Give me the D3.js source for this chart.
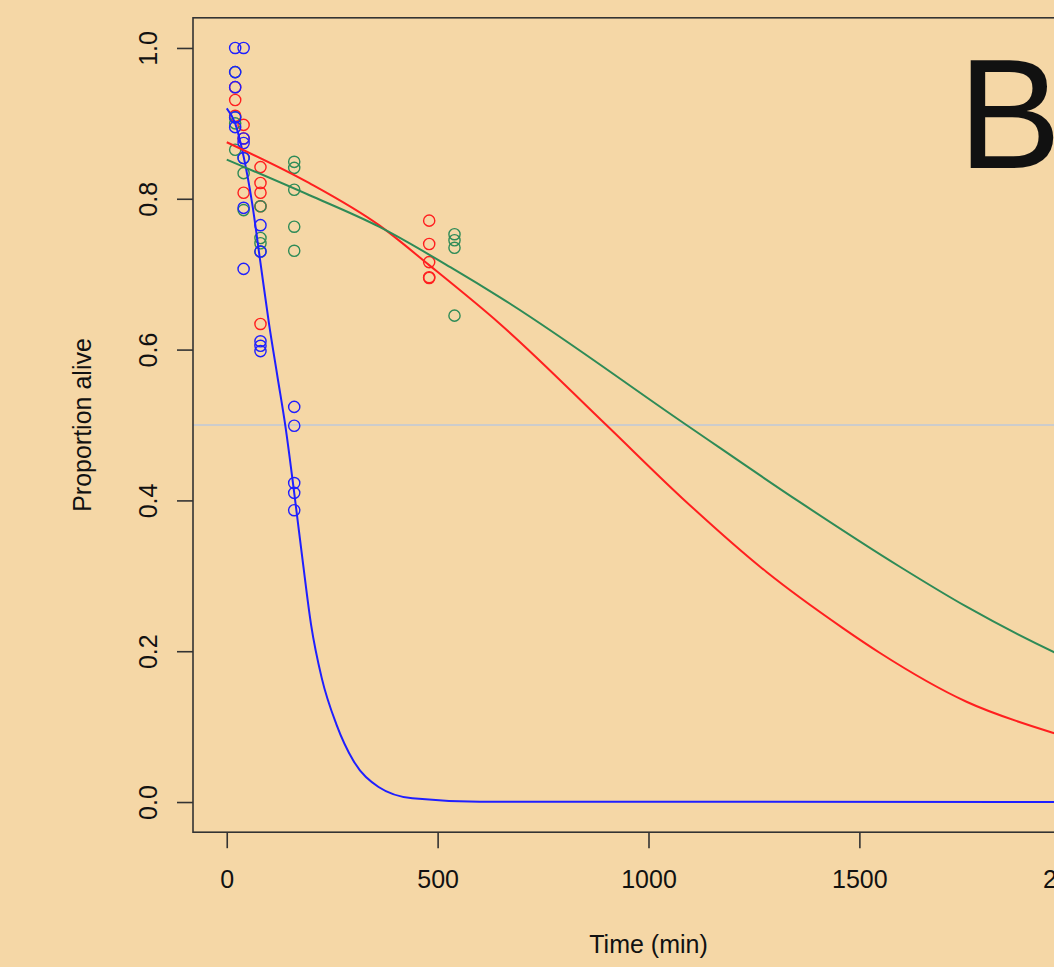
<!doctype html>
<html lang="en">
<head>
<meta charset="UTF-8">
<title>Proportion alive</title>
<script src="https://d3js.org/d3.v7.min.js"></script>
<style>
    body { margin: 0; background: #f5d7a6; }
    svg { display: block; }
    text { font-family: "Liberation Sans", Arial, sans-serif; fill: #111; }
</style>
</head>
<body>
<svg width="1054" height="967"></svg>
<script>
    // observed points (time in min, proportion alive)
    const blueT = [20, 20, 20, 20, 20, 40, 40, 40, 40, 40, 40, 80, 80, 80, 80, 80, 160, 160, 160, 160, 160];
    const blueP = [1.0, 0.968, 0.948, 0.908, 0.895, 1.0, 0.88, 0.874, 0.854, 0.788, 0.707, 0.765, 0.73, 0.611, 0.605, 0.598, 0.524, 0.499, 0.423, 0.41, 0.387];

    const redT = [20, 20, 20, 40, 40, 40, 80, 80, 80, 80, 80, 480, 480, 480, 480, 480];
    const redP = [0.948, 0.931, 0.91, 0.898, 0.88, 0.808, 0.842, 0.821, 0.808, 0.79, 0.634, 0.771, 0.74, 0.716, 0.696, 0.695];

    const greenT = [20, 20, 20, 20, 40, 40, 40, 80, 80, 80, 80, 160, 160, 160, 160, 160, 540, 540, 540, 540];
    const greenP = [0.968, 0.908, 0.9, 0.865, 0.854, 0.834, 0.785, 0.79, 0.748, 0.741, 0.73, 0.849, 0.841, 0.812, 0.763, 0.731, 0.753, 0.745, 0.735, 0.645];

    // fitted curves
    const blueFitT = [0, 20, 40, 60, 80, 100, 120, 140, 160, 180, 200, 225, 260, 300, 360, 440, 600, 2100];
    const blueFitP = [0.92, 0.90, 0.856, 0.795, 0.715, 0.635, 0.565, 0.495, 0.41, 0.32, 0.235, 0.165, 0.103, 0.055, 0.02, 0.005, 0.0005, 0];

    const redFitT = [0, 195, 361, 480, 646, 900, 1080, 1280, 1460, 1548, 1754, 1961, 2100];
    const redFitP = [0.875, 0.821, 0.765, 0.712, 0.635, 0.5, 0.403, 0.305, 0.231, 0.198, 0.133, 0.0915, 0.07];

    const greenFitT = [0, 195, 361, 540, 646, 1090, 1358, 1596, 1754, 1961, 2100];
    const greenFitP = [0.852, 0.805, 0.763, 0.706, 0.670, 0.5, 0.398, 0.312, 0.259, 0.199, 0.165];

    const xTicks = [0, 500, 1000, 1500, 2000];
    const yTicks = [0, 0.2, 0.4, 0.6, 0.8, 1.0];

    const colors = { blue: '#1f1fff', red: '#ff1f1f', green: '#2e8b57' };

    const svg = d3.select('svg');

    const plotLeft = 193, plotRight = 1104, plotTop = 17.8, plotBottom = 832.2;

    const x = d3.scaleLinear().domain([-80, 2080]).range([plotLeft, plotRight]);
    const y = d3.scaleLinear().domain([-0.04, 1.04]).range([plotBottom, plotTop]);

    svg.append('clipPath').attr('id', 'plotclip')
        .append('rect')
        .attr('x', plotLeft).attr('y', plotTop)
        .attr('width', plotRight - plotLeft).attr('height', plotBottom - plotTop);

    // reference line at 0.5
    svg.append('line')
        .attr('x1', plotLeft).attr('x2', plotRight)
        .attr('y1', y(0.5)).attr('y2', y(0.5))
        .attr('stroke', '#cccccc')
        .attr('stroke-width', 2);

    const plot = svg.append('g').attr('clip-path', 'url(#plotclip)');

    function drawPoints(ts, ps, color) {
        plot.selectAll(null)
            .data(ts.map((t, i) => ({ t: t, p: ps[i] })))
            .enter()
            .append('circle')
            .attr('cx', d => x(d.t))
            .attr('cy', d => y(d.p))
            .attr('r', 5.6)
            .attr('fill', 'none')
            .attr('stroke', color)
            .attr('stroke-width', 1.4);
    }

    drawPoints(redT, redP, colors.red);
    drawPoints(greenT, greenP, colors.green);
    drawPoints(blueT, blueP, colors.blue);

    const line = d3.line()
        .x(d => x(d[0]))
        .y(d => y(d[1]))
        .curve(d3.curveMonotoneX);

    function drawFit(ts, ps, color) {
        plot.append('path')
            .datum(ts.map((t, i) => [t, ps[i]]))
            .attr('d', line)
            .attr('fill', 'none')
            .attr('stroke', color)
            .attr('stroke-width', 2);
    }

    drawFit(blueFitT, blueFitP, colors.blue);
    drawFit(redFitT, redFitP, colors.red);
    drawFit(greenFitT, greenFitP, colors.green);

    // box
    svg.append('rect')
        .attr('x', plotLeft).attr('y', plotTop)
        .attr('width', plotRight - plotLeft).attr('height', plotBottom - plotTop)
        .attr('fill', 'none')
        .attr('stroke', '#333')
        .attr('stroke-width', 1.6);

    // axes
    const xAxis = svg.append('g')
        .attr('transform', `translate(0, ${plotBottom})`)
        .call(d3.axisBottom(x).tickValues(xTicks).tickSize(16).tickPadding(22).tickFormat(d3.format('d')));
    xAxis.select('.domain').remove();
    xAxis.selectAll('line').attr('stroke', '#333').attr('stroke-width', 1.6);
    xAxis.selectAll('text').attr('font-size', 25).attr('fill', '#111')
        .attr('font-family', '"Liberation Sans", Arial, sans-serif');

    const yAxis = svg.append('g')
        .attr('transform', `translate(${plotLeft}, 0)`)
        .call(d3.axisLeft(y).tickValues(yTicks).tickSize(16).tickFormat(d3.format('.1f')));
    yAxis.select('.domain').remove();
    yAxis.selectAll('line').attr('stroke', '#333').attr('stroke-width', 1.6);
    yAxis.selectAll('text')
        .attr('font-size', 25).attr('fill', '#111')
        .attr('font-family', '"Liberation Sans", Arial, sans-serif')
        .attr('x', null).attr('dy', null)
        .attr('text-anchor', 'middle')
        .attr('transform', 'translate(-36, 0) rotate(-90)');

    svg.append('text')
        .attr('x', x(1000)).attr('y', 953)
        .attr('text-anchor', 'middle')
        .attr('font-size', 25)
        .text('Time (min)');

    svg.append('text')
        .attr('transform', `translate(91, ${y(0.5)}) rotate(-90)`)
        .attr('text-anchor', 'middle')
        .attr('font-size', 25)
        .text('Proportion alive');

    svg.append('text')
        .attr('x', 958).attr('y', 168)
        .attr('font-size', 155)
        .attr('fill', '#000')
        .text('B');
</script>
</body>
</html>
